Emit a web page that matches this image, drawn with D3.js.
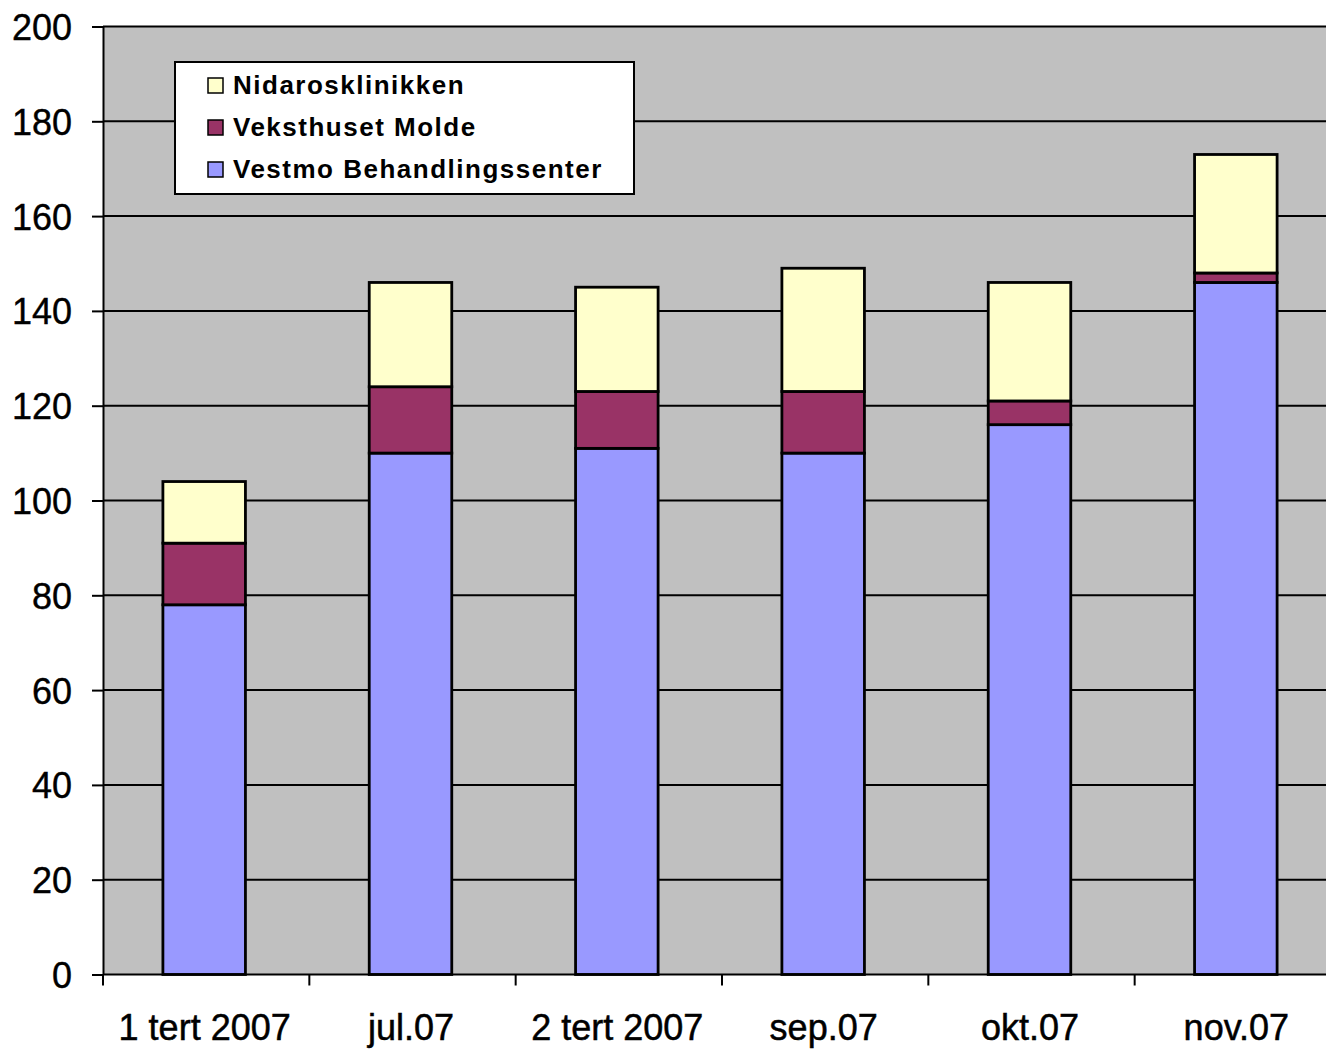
<!DOCTYPE html>
<html>
<head>
<meta charset="utf-8">
<script src="https://cdn.jsdelivr.net/npm/d3@7/dist/d3.min.js"></script>
<style>
  html, body { margin: 0; padding: 0; background: #ffffff; }
  svg { display: block; }
</style>
</head>
<body>
<svg id="chart" width="1326" height="1049"></svg>
<script>
// ---- Data ----
const categories = ["1 tert 2007", "jul.07", "2 tert 2007", "sep.07", "okt.07", "nov.07"];
const vestmo = [78, 110, 111, 110, 116, 146];
const veksthuset = [13, 14, 12, 13, 5, 2];
const nidaros = [13, 22, 22, 26, 25, 25];
const seriesNames = ["Vestmo Behandlingssenter", "Veksthuset Molde", "Nidarosklinikken"];
const seriesColors = ["#9999FF", "#993366", "#FFFFCC"];
const yTicks = [0, 20, 40, 60, 80, 100, 120, 140, 160, 180, 200];

// ---- Layout ----
const plotLeft = 103, plotRight = 1341, plotTop = 26.5, plotBottom = 974.5;
const svg = d3.select("#chart");
const font = "'Liberation Sans', Arial, sans-serif";

const y = d3.scaleLinear().domain([0, 200]).range([plotBottom, plotTop]);
const xCat = d3.scaleBand().domain(categories).range([plotLeft, plotRight]).padding(0);
const xBar = d3.scaleBand().domain(categories).range([plotLeft - 2, plotRight - 2])
  .paddingInner(0.6).paddingOuter(0.3);

// plot background
svg.append("rect")
  .attr("x", plotLeft).attr("y", plotTop)
  .attr("width", plotRight - plotLeft).attr("height", plotBottom - plotTop)
  .attr("fill", "#C0C0C0");

// gridlines
svg.append("g").selectAll("line").data(yTicks.filter(d => d > 0)).join("line")
  .attr("x1", plotLeft).attr("x2", plotRight)
  .attr("y1", d => y(d)).attr("y2", d => y(d))
  .attr("stroke", "#000").attr("stroke-width", 2);

// stacked data
const rows = categories.map((c, i) => ({ cat: c, v0: vestmo[i], v1: veksthuset[i], v2: nidaros[i] }));
const stack = d3.stack().keys(["v0", "v1", "v2"])(rows);

svg.append("g").selectAll("g").data(stack).join("g")
  .attr("fill", (d, i) => seriesColors[i])
  .selectAll("rect").data(d => d).join("rect")
  .attr("x", d => xBar(d.data.cat))
  .attr("width", xBar.bandwidth())
  .attr("y", d => y(d[1]))
  .attr("height", d => y(d[0]) - y(d[1]))
  .attr("stroke", "#000").attr("stroke-width", 2.8);

// y axis
const yAxis = svg.append("g")
  .attr("transform", `translate(${plotLeft},0)`)
  .call(d3.axisLeft(y).tickValues(yTicks).tickSize(11).tickPadding(20).tickSizeOuter(0));
yAxis.select(".domain").attr("stroke", "#000").attr("stroke-width", 2);
yAxis.selectAll(".tick line").attr("stroke", "#000").attr("stroke-width", 2);
yAxis.selectAll(".tick text")
  .attr("font-family", font).attr("font-size", 36).attr("fill", "#000")
  .attr("stroke", "#000").attr("stroke-width", 0.4)
  .attr("dy", "0.36em");

// x axis line
svg.append("line")
  .attr("x1", plotLeft).attr("x2", plotRight)
  .attr("y1", plotBottom).attr("y2", plotBottom)
  .attr("stroke", "#000").attr("stroke-width", 2);

// x ticks at category boundaries
const boundaries = categories.map(c => xCat(c)).concat([plotRight]);
svg.append("g").selectAll("line").data(boundaries).join("line")
  .attr("x1", d => d).attr("x2", d => d)
  .attr("y1", plotBottom).attr("y2", plotBottom + 11)
  .attr("stroke", "#000").attr("stroke-width", 2);

// x labels
svg.append("g").selectAll("text").data(categories).join("text")
  .attr("x", d => xCat(d) + xCat.bandwidth() / 2 - 1.5)
  .attr("y", 1040)
  .attr("text-anchor", "middle")
  .attr("font-family", font).attr("font-size", 36).attr("fill", "#000")
  .attr("stroke", "#000").attr("stroke-width", 0.5)
  .text(d => d);

// legend
const legend = svg.append("g");
legend.append("rect")
  .attr("x", 175).attr("y", 62).attr("width", 459).attr("height", 132)
  .attr("fill", "#fff").attr("stroke", "#000").attr("stroke-width", 2);
const legendOrder = [2, 1, 0];
legendOrder.forEach((si, k) => {
  const base = 94 + k * 42;
  legend.append("rect")
    .attr("x", 208).attr("y", base - 16).attr("width", 15).attr("height", 15)
    .attr("fill", seriesColors[si]).attr("stroke", "#000").attr("stroke-width", 1.5);
  legend.append("text")
    .attr("x", 233).attr("y", base)
    .attr("font-family", font).attr("font-size", 26).attr("font-weight", "bold")
    .attr("letter-spacing", "1.5px").attr("fill", "#000")
    .text(seriesNames[si]);
});
</script>
</body>
</html>
